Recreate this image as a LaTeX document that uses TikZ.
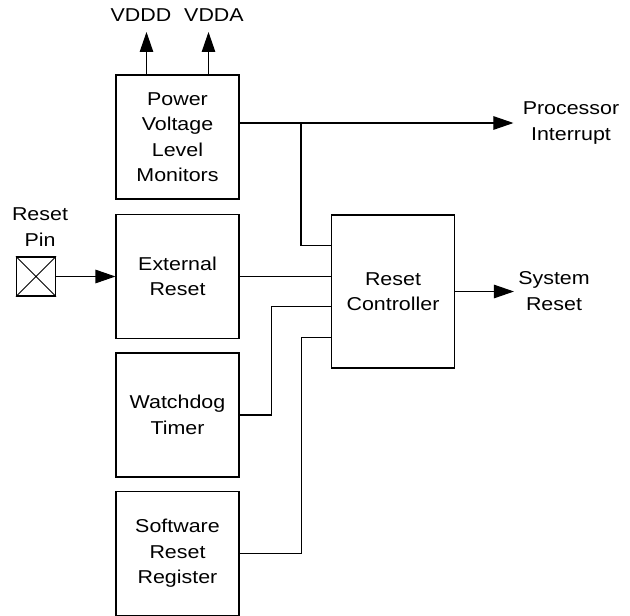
\documentclass[tikz,border=0pt]{standalone}
\usepackage{fontspec}
\setmainfont{Liberation Sans}[FakeStretch=1.15]
\usepackage{tikz}
\usetikzlibrary{arrows.meta,positioning,calc}
\tikzset{
  block/.style   = {draw, line width=0.6pt, rectangle, minimum width=2.46cm,
                    minimum height=2.48cm, align=center, inner sep=1pt},
  ctrlblock/.style = {block, minimum height=3.06cm},
  padbox/.style  = {draw, line width=0.6pt, rectangle, inner sep=0pt,
                    minimum size=0.78cm},
  lbl/.style     = {align=center, inner sep=0pt},
  wire/.style    = {line width=0.6pt},
  sig/.style     = {-{Triangle[length=0.4cm,width=0.27cm]}, line width=0.6pt},
}

\begin{document}
\begin{tikzpicture}[x=0.02cm, y=-0.02cm,
  font=\fontsize{10.6}{14.5}\selectfont]
\useasboundingbox (0,0) rectangle (630,616);
% ---- blocks ----
\node[block] (pwr) at (177.5,137)   {Power\\Voltage\\Level\\Monitors};
\node[block] (ext) at (177.5,276.5) {External\\Reset};
\node[block] (wdt) at (177.5,415)   {Watchdog\\Timer};
\node[block] (swr) at (177.5,553.5) {Software\\Reset\\Register};
\node[ctrlblock] (ctrl) at (393,291.5) {Reset\\Controller};
% ---- reset pin ----
\node[padbox] (pin) at (36,276.5) {};
\draw[wire] (pin.north west) -- (pin.south east)
            (pin.south west) -- (pin.north east);
\node[lbl] (pinlbl) at (40,227) {Reset\\Pin};
% ---- outside labels ----
\node[lbl, anchor=south, inner ysep=0.2cm] (vddd) at (141,32) {VDDD};
\node[lbl, anchor=south, inner ysep=0.2cm] (vdda) at (214,32) {VDDA};
\node[lbl] (irq) at (571,123) {Processor\\Interrupt};
\node[lbl] (sysrst) at (554,291) {System\\Reset};
% ---- controller inputs ----
\coordinate (in1) at ($(ctrl.north west)!0.2!(ctrl.south west)$);
\coordinate (in3) at ($(ctrl.north west)!0.6!(ctrl.south west)$);
\coordinate (in4) at ($(ctrl.north west)!0.8!(ctrl.south west)$);
\coordinate (split) at (301,123);
% ---- supply outputs ----
\coordinate (p1) at ($(pwr.north west)!0.25!(pwr.north east)$);
\coordinate (p2) at ($(pwr.north west)!0.75!(pwr.north east)$);
\draw[sig] (p1) -- (p1 |- vddd.south);
\draw[sig] (p2) -- (p2 |- vdda.south);
% ---- connections ----
\draw[wire] (pwr.east |- split) -- (split);
\draw[sig]  (split) -- ([xshift=-0.18cm]irq.west |- split);
\draw[wire] (split) |- (in1);
\draw[sig]  (pin.east) -- (ext.west);
\draw[wire] (ext.east) -- (ext.east -| ctrl.west);
\draw[wire] (wdt.east) -- ++(32,0) |- (in3);
\draw[wire] (swr.east) -- ++(62,0) |- (in4);
\draw[sig]  (ctrl.east) -- ([xshift=-0.08cm]sysrst.west |- ctrl.east);
\end{tikzpicture}
\end{document}
